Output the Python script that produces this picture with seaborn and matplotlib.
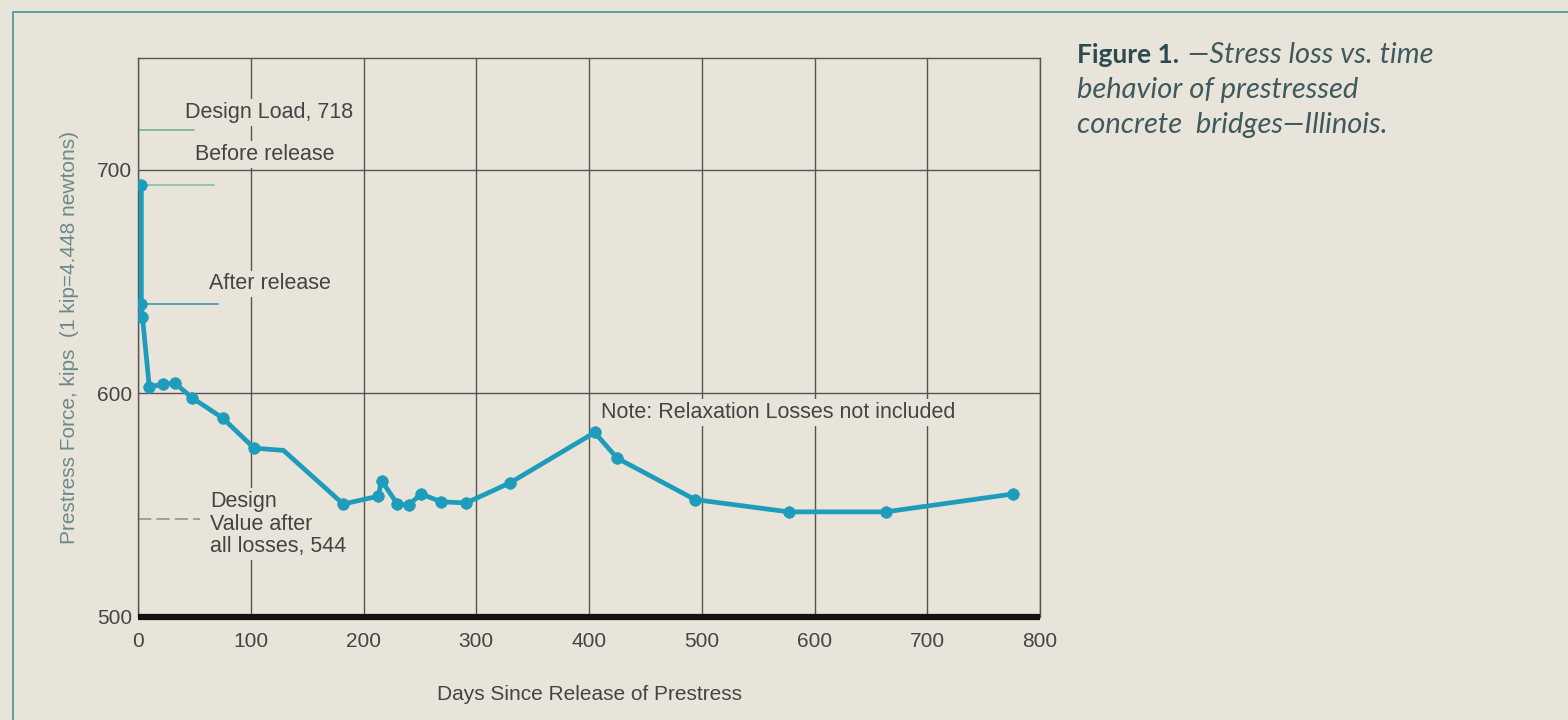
import matplotlib
matplotlib.use("Agg")
import matplotlib.pyplot as plt
from matplotlib.lines import Line2D
import seaborn as sns
import pandas as pd

# --- Data ---
days = [3, 3, 4, 10, 22, 33, 48, 75, 103, 129, 182, 213, 216, 230, 240, 251,
        269, 291, 330, 405, 425, 494, 577, 663, 776]
kips = [693.3, 640, 634, 603, 604, 604.5, 598, 589, 575.5, 574.5, 550.5, 554,
        561, 550.5, 550, 555, 551.5, 551, 560, 582.5, 571, 552.5, 547, 547, 555]
# the bend at day 129 has no dot on it
has_dot = [True] * 9 + [False] + [True] * 15

x_ticks = [0, 100, 200, 300, 400, 500, 600, 700, 800]
y_ticks = [500, 600, 700]

design_load = 718
before_release = 693.3
after_release = 640
design_final = 544

BG = "#e8e4d9"
LINE = "#1e9cbb"
GRID = "#555555"
TEXT = "#444444"

sns.set_theme(style="white")
plt.rcParams["font.family"] = ["Liberation Sans", "DejaVu Sans"]

df = pd.DataFrame({"days": days, "kips": kips, "dot": has_dot})

fig = plt.figure(figsize=(15.68, 7.2), dpi=100, facecolor=BG)
ax = fig.add_axes([0.0880, 0.1431, 0.5753, 0.7764])
ax.set_facecolor(BG)

ax.set_xlim(0, 800)
ax.set_ylim(500, 750)
ax.set_xticks(x_ticks)
ax.set_yticks(y_ticks)
ax.grid(True, color=GRID, linewidth=1.0, zorder=0)
ax.set_axisbelow(True)

for side in ["top", "right", "left"]:
    ax.spines[side].set_color(GRID)
    ax.spines[side].set_linewidth(1.0)
ax.spines["bottom"].set_color("#111111")
ax.spines["bottom"].set_linewidth(4.5)
ax.spines["bottom"].set_capstyle("butt")

ax.tick_params(axis="both", length=0, labelsize=15, colors=TEXT)
ax.tick_params(axis="x", pad=11)
ax.tick_params(axis="y", pad=4)

# reference lines for the design values, short stubs off the y axis
ax.plot([0, 50], [design_load] * 2, color="#7db59c", lw=1.3, zorder=2)
ax.plot([4, 67], [before_release] * 2, color="#8cc2ae", lw=1.3, zorder=2)
ax.plot([0, 71], [after_release] * 2, color="#4f9aad", lw=1.3, zorder=2)
ax.plot([0, 55], [design_final] * 2, color="#8a9696", lw=1.2,
        dashes=(8, 3), zorder=2)

sns.lineplot(data=df, x="days", y="kips", sort=False, estimator=None,
             color=LINE, linewidth=3.4, ax=ax, zorder=4)
sns.scatterplot(data=df[df["dot"]], x="days", y="kips", color=LINE, s=70,
                edgecolor=LINE, linewidth=0.5, ax=ax, zorder=5)

box = dict(facecolor=BG, edgecolor="none", pad=2)
ax.text(42, 725.5, "Design Load, 718", fontsize=15.5, color=TEXT,
        va="center", ha="left", bbox=box, zorder=3)
ax.text(50.5, 706.7, "Before release", fontsize=15.5, color=TEXT,
        va="center", ha="left", bbox=box, zorder=3)
ax.text(63, 649, "After release", fontsize=15.5, color=TEXT,
        va="center", ha="left", bbox=box, zorder=3)
ax.text(64, 541.5, "Design\nValue after\nall losses, 544", fontsize=15.5,
        color=TEXT, va="center", ha="left", linespacing=1.1, bbox=box,
        zorder=3)
ax.text(411, 591.5, "Note: Relaxation Losses not included", fontsize=15.5,
        color=TEXT, va="center", ha="left", bbox=box, zorder=3)

ax.set_xlabel("Days Since Release of Prestress", fontsize=15, color=TEXT,
              labelpad=24)
ax.set_ylabel("Prestress Force, kips  (1 kip=4.448 newtons)", fontsize=15,
              color="#6a8a8a")
ax.yaxis.set_label_coords(-0.065, 0.5)

# caption, top right
cap = ["Lato", "Open Sans", "DejaVu Sans"]
fig.text(1077 / 1568, 1 - 63 / 720, "Figure 1.", family=cap, fontsize=19,
         fontweight="bold", color="#2b4a52", va="baseline", ha="left")
fig.text(1188 / 1568, 1 - 63 / 720, "\u2014Stress loss vs. time", family=cap,
         fontsize=21, style="italic", color="#3e5a5e", va="baseline",
         ha="left")
fig.text(1077 / 1568, 1 - 98 / 720, "behavior of prestressed", family=cap,
         fontsize=21, style="italic", color="#3e5a5e", va="baseline",
         ha="left")
fig.text(1077 / 1568, 1 - 133 / 720, "concrete  bridges\u2014Illinois.",
         family=cap, fontsize=21, style="italic", color="#3e5a5e",
         va="baseline", ha="left")

# thin teal page frame
frame = "#4f9b9f"
fig.add_artist(Line2D([13 / 1568, 1], [1 - 12 / 720] * 2, color=frame,
                      lw=1.3, transform=fig.transFigure))
fig.add_artist(Line2D([13 / 1568] * 2, [0, 1 - 12 / 720], color=frame,
                      lw=1.3, transform=fig.transFigure))

fig.savefig("out.png", dpi=100, facecolor=BG)
